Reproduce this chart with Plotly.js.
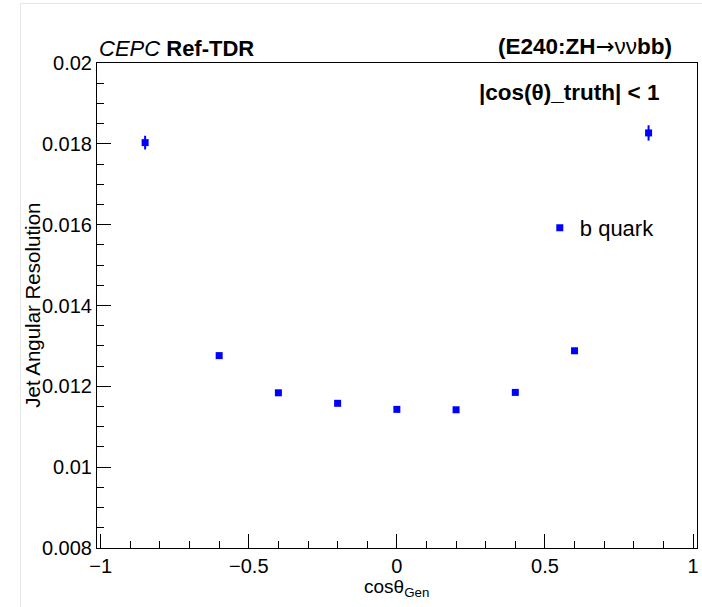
<!DOCTYPE html>
<html>
<head>
<meta charset="utf-8">
<script src="https://cdn.plot.ly/plotly-3.0.1.min.js"></script>
<style>
html,body{margin:0;padding:0;background:#fff;}
#wrap{position:relative;width:702px;height:607px;}
#frame{position:absolute;left:20px;top:3px;width:682px;height:604px;border-left:1px solid #e6e6e6;border-top:1px solid #e6e6e6;pointer-events:none;}
#chart{position:absolute;left:0;top:0;width:702px;height:607px;}
</style>
</head>
<body>
<div id="wrap"><div id="chart"></div><div id="frame"></div></div>
<script>
// Data
const cosTheta = [-0.85, -0.6, -0.4, -0.2, 0.0, 0.2, 0.4, 0.6, 0.85];
const resolution = [0.01803, 0.01276, 0.01184, 0.01158, 0.01143, 0.01142, 0.01185, 0.01288, 0.01827];
const resolutionErr = [0.00017, 0.00007, 0.00006, 0.00005, 0.00005, 0.00005, 0.00006, 0.00007, 0.00019];
const seriesName = "b quark";
const xTickVals = [-1, -0.5, 0, 0.5, 1];
const xTickText = ["\u22121", "\u22120.5", "0", "0.5", "1"];
const yTickVals = [0.008, 0.01, 0.012, 0.014, 0.016, 0.018, 0.02];
const yTickText = ["0.008", "0.01", "0.012", "0.014", "0.016", "0.018", "0.02"];

const FONT = "Liberation Sans, Arial, Helvetica, sans-serif";

const trace = {
  x: cosTheta,
  y: resolution,
  type: "scatter",
  mode: "markers",
  name: seriesName,
  marker: {symbol: "square", size: 7, color: "#0000ff"},
  error_y: {type: "data", array: resolutionErr, visible: true, color: "#0000ff", thickness: 2, width: 0}
};

const layout = {
  width: 702, height: 607,
  paper_bgcolor: "rgba(0,0,0,0)",
  plot_bgcolor: "#ffffff",
  margin: {l: 97, r: 5, t: 63, b: 59, pad: 0},
  font: {family: FONT, size: 20, color: "#000"},
  showlegend: true,
  legend: {x: 0.738, y: 0.66, xanchor: "left", yanchor: "middle", bgcolor: "rgba(0,0,0,0)",
           font: {family: FONT, size: 22, color: "#000"}, borderwidth: 0},
  xaxis: {
    range: [-1.0125, 1.0135], showgrid: false, zeroline: false,
    showline: true, mirror: true, linecolor: "#000", linewidth: 1,
    ticks: "inside", ticklen: 14, tickwidth: 1, tickcolor: "#000",
    tickvals: xTickVals, ticktext: xTickText,
    tickfont: {family: FONT, size: 20},
    minor: {dtick: 0.1, tick0: 0, ticks: "inside", ticklen: 7, tickwidth: 1, tickcolor: "#000", showgrid: false}
  },
  yaxis: {
    range: [0.008, 0.02], showgrid: false, zeroline: false,
    showline: true, mirror: true, linecolor: "#000", linewidth: 1,
    ticks: "inside", ticklen: 14, tickwidth: 1, tickcolor: "#000",
    tickvals: yTickVals, ticktext: yTickText,
    tickfont: {family: FONT, size: 20},
    minor: {dtick: 0.0005, tick0: 0, ticks: "inside", ticklen: 7, tickwidth: 1, tickcolor: "#000", showgrid: false}
  },
  annotations: [
    {xref: "paper", yref: "paper", x: 0.499, y: -0.083, xanchor: "center", yanchor: "middle", showarrow: false,
     text: "cos\u03b8<sub>Gen</sub>", font: {family: FONT, size: 19, color: "#000"}},
    {xref: "paper", yref: "paper", x: -0.108, y: 0.5, xanchor: "center", yanchor: "middle", textangle: -90, showarrow: false,
     text: "Jet Angular Resolution", font: {family: FONT, size: 20.5, color: "#000"}},
    {xref: "paper", yref: "paper", x: 0, y: 1, xanchor: "left", yanchor: "bottom", yshift: 0, showarrow: false,
     text: "<i>CEPC</i> <b>Ref-TDR</b>", font: {family: FONT, size: 22, color: "#000"}},
    {xref: "paper", yref: "paper", x: 0.962, y: 1, xanchor: "right", yanchor: "bottom", yshift: 2, showarrow: false,
     text: "<b>(E240:ZH</b><span style=\"font-family:DejaVu Sans\">\u2192</span>\u03bd\u03bd<b>bb)</b>", font: {family: FONT, size: 22.5, color: "#000"}},
    {xref: "paper", yref: "paper", x: 0.94, y: 0.94, xanchor: "right", yanchor: "middle", showarrow: false,
     text: "<b>|cos(\u03b8)_truth| &lt; 1</b>", font: {family: FONT, size: 22.5, color: "#000"}}
  ]
};

Plotly.newPlot("chart", [trace], layout, {displayModeBar: false, staticPlot: true});
</script>
</body>
</html>
